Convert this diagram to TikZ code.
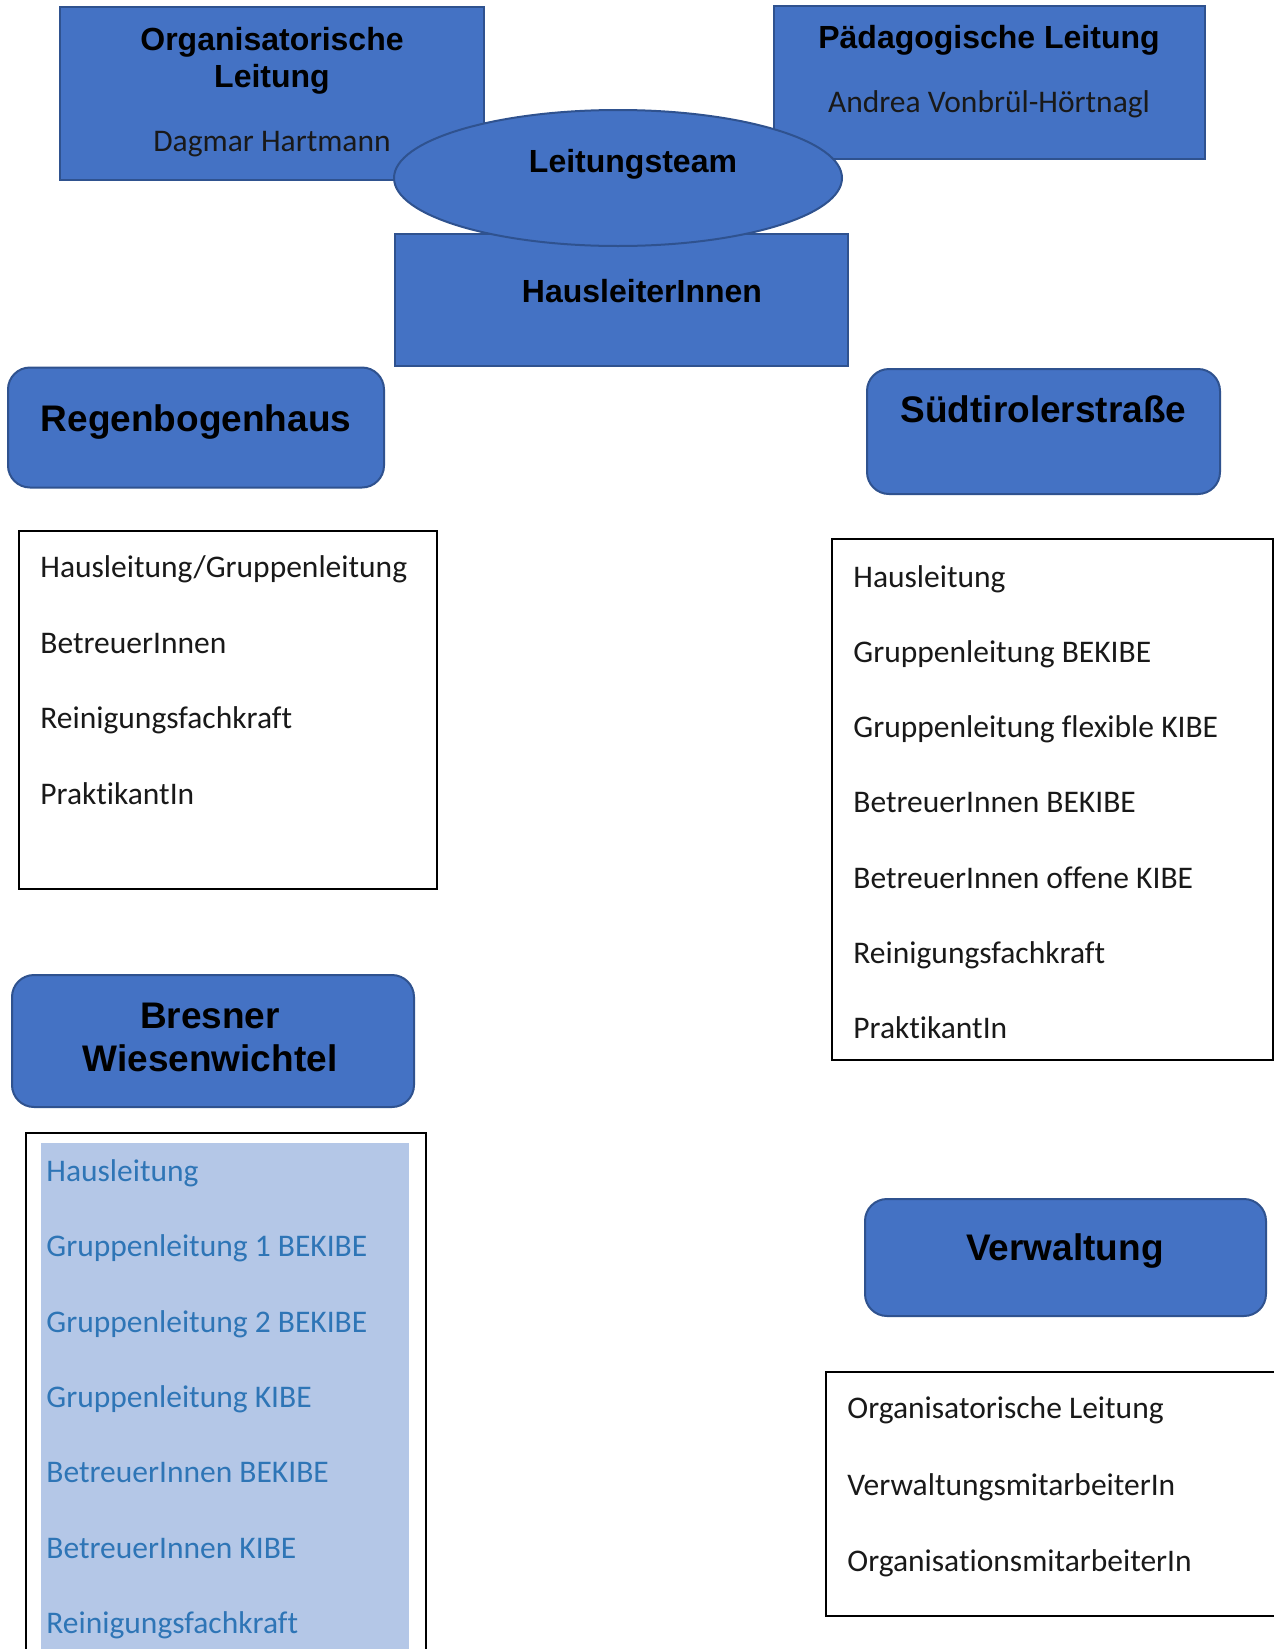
\documentclass[tikz,border=0pt]{standalone}
\usepackage{fontspec}
\setmainfont{Carlito}[Ligatures=NoCommon]
\newfontfamily\headfont{Liberation Sans}
\usetikzlibrary{shapes.geometric}
\definecolor{boxblue}{HTML}{4472C4}
\definecolor{boxedge}{HTML}{2F528F}
\definecolor{hilite}{HTML}{B4C7E7}
\definecolor{listblue}{HTML}{2E75B6}
\begin{document}
\begin{tikzpicture}[x=0.5pt,y=-0.5pt,
  bluebox/.style={draw=boxedge, line width=1pt, fill=boxblue, inner sep=0pt},
  roundbox/.style={bluebox, rounded corners=11pt},
  listbox/.style={draw=black, line width=0.75pt, inner sep=0pt},
  bighead/.style={font=\headfont\bfseries\fontsize{18.5}{22}\selectfont, anchor=base, inner sep=0pt},
  midhead/.style={font=\headfont\bfseries\fontsize{16}{19}\selectfont, anchor=base, inner sep=0pt},
  namehead/.style={font=\fontsize{15.75}{19}\selectfont, anchor=base, inner sep=0pt, text=black!90},
  item/.style={font=\fontsize{15.75}{19}\selectfont, anchor=base west, inner sep=0pt, text=black!90},
  blueitem/.style={item, text=listblue}]
\path[use as bounding box, clip] (0,0) rectangle (1274,1649);
\fill[white] (0,0) rectangle (1274,1649);

% top boxes
\node[bluebox, minimum width=212pt, minimum height=86.5pt] (org) at (272,93.5) {};
\node[midhead] (orgt1) at (272,50) {Organisatorische};
\node[midhead] (orgt2) at (272,87) {Leitung};
\node[namehead] (orgn) at (272,151) {Dagmar Hartmann};

\node[bluebox, minimum width=215.5pt, minimum height=76.5pt] (paed) at (989.5,82.5) {};
\node[midhead] (paedt) at (989,48) {Pädagogische Leitung};
\node[namehead] (paedn) at (989,112) {Andrea Vonbrül-Hörtnagl};

\node[bluebox, minimum width=226.5pt, minimum height=66pt] (haus) at (621.5,300) {};
\node[midhead] (haust) at (642,302) {HausleiterInnen};

\node[bluebox, ellipse, minimum width=224pt, minimum height=68pt] (team) at (618,178) {};
\node[midhead] (teamt) at (633,172) {Leitungsteam};

% Regenbogenhaus
\node[roundbox, minimum width=188pt, minimum height=60pt] (regen) at (196,427.5) {};
\node[bighead] (regent) at (196,431) {Regenbogenhaus};
\node[listbox, minimum width=209pt, minimum height=179pt] (regenl) at (228,710) {};
\node[item] (rl1) at (40,577) {Hausleitung/Gruppenleitung};
\node[item] (rl2) at (40,653) {BetreuerInnen};
\node[item] (rl3) at (40,728.5) {Reinigungsfachkraft};
\node[item] (rl4) at (40,804) {PraktikantIn};

% Suedtirolerstrasse
\node[roundbox, minimum width=176.5pt, minimum height=62.5pt] (sued) at (1043.5,431.5) {};
\node[bighead] (suedt) at (1043.5,422) {Südtirolerstraße};
\node[listbox, minimum width=220.5pt, minimum height=260.5pt] (suedl) at (1052.5,799.5) {};
\node[item] (sl1) at (853,587) {Hausleitung};
\node[item] (sl2) at (853,662) {Gruppenleitung BEKIBE};
\node[item] (sl3) at (853,737) {Gruppenleitung flexible KIBE};
\node[item] (sl4) at (853,812.5) {BetreuerInnen BEKIBE};
\node[item] (sl5) at (853,888) {BetreuerInnen offene KIBE};
\node[item] (sl6) at (853,963) {Reinigungsfachkraft};
\node[item] (sl7) at (853,1038) {PraktikantIn};

% Bresner Wiesenwichtel
\node[roundbox, minimum width=201pt, minimum height=66pt] (bres) at (213,1041) {};
\node[bighead] (brest1) at (210,1028) {Bresner};
\node[bighead] (brest2) at (210,1071) {Wiesenwichtel};
\node[listbox, fill=white, minimum width=200pt, minimum height=300pt] (bresl) at (226,1433) {};
\node[fill=hilite, inner sep=0pt, minimum width=184pt, minimum height=290pt] (bresh) at (225,1433) {};
\node[blueitem] (bl1) at (46,1181) {Hausleitung};
\node[blueitem] (bl2) at (46,1256) {Gruppenleitung 1 BEKIBE};
\node[blueitem] (bl3) at (46,1332) {Gruppenleitung 2 BEKIBE};
\node[blueitem] (bl4) at (46,1407) {Gruppenleitung KIBE};
\node[blueitem] (bl5) at (46,1482) {BetreuerInnen BEKIBE};
\node[blueitem] (bl6) at (46,1558) {BetreuerInnen KIBE};
\node[blueitem] (bl7) at (46,1633) {Reinigungsfachkraft};

% Verwaltung
\node[roundbox, minimum width=200.5pt, minimum height=58.5pt] (verw) at (1065.5,1257.5) {};
\node[bighead] (verwt) at (1065,1260) {Verwaltung};
\node[listbox, minimum width=247pt, minimum height=122pt] (verwl) at (1073,1494) {};
\node[item] (vl1) at (847,1418) {Organisatorische Leitung};
\node[item] (vl2) at (847,1495) {VerwaltungsmitarbeiterIn};
\node[item] (vl3) at (847,1571) {OrganisationsmitarbeiterIn};
\end{tikzpicture}
\end{document}
